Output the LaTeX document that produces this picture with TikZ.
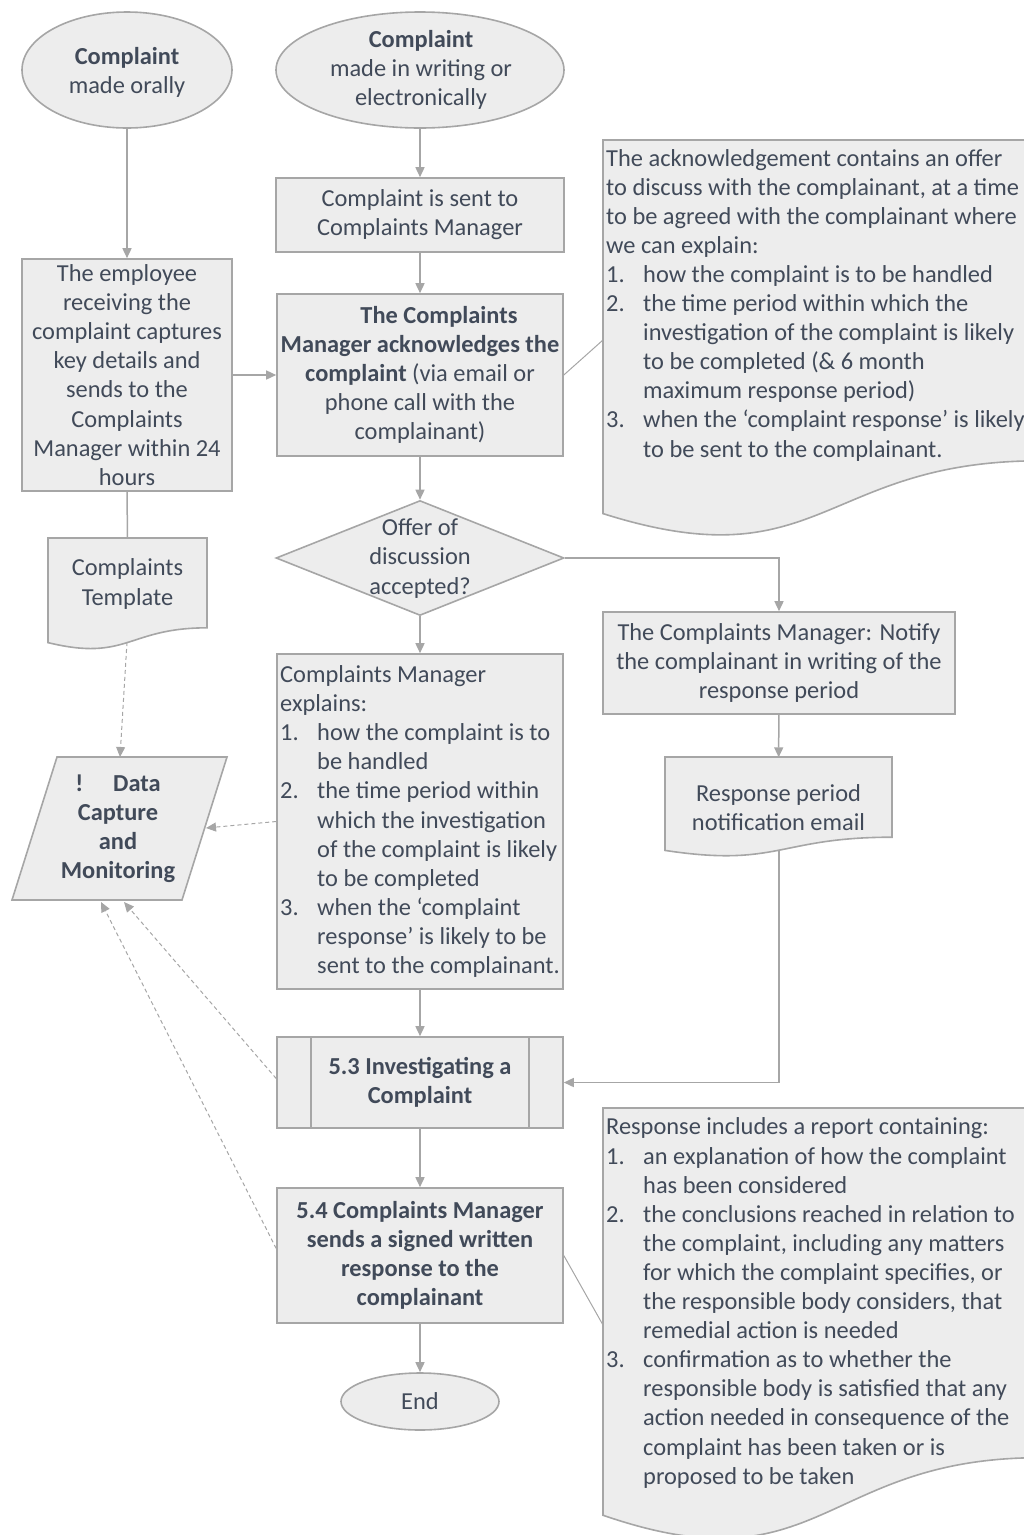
\documentclass[tikz,border=0pt]{standalone}
\usepackage{fontspec}
\setmainfont{Carlito}
\usetikzlibrary{shapes.geometric,arrows.meta,calc}
\definecolor{fillg}{HTML}{EDEDED}
\definecolor{lineg}{HTML}{A6A6A6}
\definecolor{txt}{HTML}{414A59}
\newcommand{\numit}[1]{\makebox[37pt][l]{#1}}
\newcommand{\contl}{\hspace*{37pt}}
\newcommand{\mydoc}[4]{%
  \filldraw[docsty] (#1,-#3) -- (#2,-#3) -- (#2,{-(#3+0.802*#4)})
    .. controls ({(#1+#2)/2},{-(#3+0.802*#4)}) and ({(#1+#2)/2},{-(#3+1.107*#4)}) ..
    (#1,{-(#3+0.934*#4)}) -- cycle;}
\begin{document}
\begin{tikzpicture}[x=1pt,y=1pt,
  every node/.style={font=\fontsize{24.4}{29.1}\selectfont, text=txt, inner sep=0pt},
  bfont/.style={font=\fontsize{24.4}{29.1}\selectfont\bfseries},
  box/.style={draw=lineg, fill=fillg, line width=1.6pt, align=center},
  bbox/.style={box, bfont},
  oval/.style={ellipse, draw=lineg, fill=fillg, line width=1.6pt},
  plain/.style={align=center},
  docsty/.style={draw=lineg, fill=fillg, line width=1.6pt},
  flow/.style={draw=lineg, line width=1.5pt, -{Triangle[length=10pt,width=9pt]}},
  dashflow/.style={draw=lineg, line width=1pt, dash pattern=on 4pt off 3pt, -{Triangle[length=10pt,width=9pt]}},
  notelink/.style={draw=lineg, line width=1pt},
]
\useasboundingbox (0,0) rectangle (1024,-1535);
\clip (0,0) rectangle (1024,-1535);

% start ovals
\node[oval, minimum width=210pt, minimum height=116pt] (o1) at (127,-70) {};
\node[plain] (o1t) at (127,-72) {\textbf{Complaint}\\made orally};
\node[oval, minimum width=288pt, minimum height=116pt] (o2) at (420,-70) {};
\node[plain] (o2t) at (421,-70) {\textbf{Complaint}\\made in writing or\\electronically};

% boxes
\node[box, minimum width=288pt, minimum height=74pt] (b1) at (420,-215)
  {Complaint is sent to\\Complaints Manager};
\node[box, minimum width=210pt, minimum height=232pt] (emp) at (127,-375)
  {The employee\\receiving the\\complaint captures\\key details and\\sends to the\\Complaints\\Manager within 24\\hours};
\node[box, minimum width=286pt, minimum height=162pt] (ack) at (420,-375)
  {\hspace*{38pt}\textbf{The Complaints}\\\textbf{Manager acknowledges the}\\\textbf{complaint} (via email or\\phone call with the\\complainant)};

% decision
\node[diamond, draw=lineg, fill=fillg, line width=1.6pt, minimum width=288pt, minimum height=115pt] (dia) at (420,-558) {};
\node[plain] (diat) at (420,-558.5) {Offer of\\discussion\\accepted?};

% notify
\node[box, minimum width=352pt, minimum height=102pt] (notify) at (779,-663)
  {The Complaints Manager: Notify\\the complainant in writing of the\\response period};

% email document
\mydoc{665}{892}{757}{100}
\node[plain, minimum width=227pt, minimum height=101pt] (email) at (778.5,-808) {Response period\\notification email};
\coordinate (ebot) at (779,-850);

% template document
\mydoc{48}{207}{538}{112}
\node[plain, minimum width=159pt, minimum height=91pt] (templ) at (127.5,-584) {Complaints\\Template};
\coordinate (tbot) at (127,-642);

% data capture
\filldraw[docsty] (57,-757) -- (227,-757) -- (182,-900) -- (12,-900) -- cycle;
\node[plain, bfont] (data) at (118,-829) {!\hspace{30pt}Data\\Capture\\and\\Monitoring};
\coordinate (dtop) at (120,-757);
\coordinate (dright) at (206,-828);
\coordinate (dbota) at (124,-902);
\coordinate (dbotb) at (101,-902);

% explains box
\node[box, align=left, minimum width=286pt, minimum height=335pt] (cme) at (420,-821.5)
  {Complaints Manager\\explains:\\\numit{1.}how the complaint is to\\\contl be handled\\\numit{2.}the time period within\\\contl which the investigation\\\contl of the complaint is likely\\\contl to be completed\\\numit{3.}when the ‘complaint\\\contl response’ is likely to be\\\contl sent to the complainant.};

% investigating
\node[bbox, minimum width=286pt, minimum height=91pt] (inv) at (420,-1082.5) {5.3 Investigating a\\Complaint};
\draw[draw=lineg, line width=1.6pt] ([xshift=35pt]inv.north west) -- ([xshift=35pt]inv.south west);
\draw[draw=lineg, line width=1.6pt] ([xshift=-35pt]inv.north east) -- ([xshift=-35pt]inv.south east);

% response
\node[bbox, minimum width=286pt, minimum height=135pt] (sr) at (420,-1255.5)
  {5.4 Complaints Manager\\sends a signed written\\response to the\\complainant};
\node[oval, minimum width=158pt, minimum height=57pt] (endn) at (420,-1401.5) {End};

% notes
\mydoc{603}{1040}{140}{400}
\node[align=left, anchor=west] (n1) at (606,-305)
  {The acknowledgement contains an offer\\to discuss with the complainant, at a time\\to be agreed with the complainant where\\we can explain:\\\numit{1.}how the complaint is to be handled\\\numit{2.}the time period within which the\\\contl investigation of the complaint is likely\\\contl to be completed (\& 6 month\\\contl maximum response period)\\\numit{3.}when the ‘complaint response’ is likely\\\contl to be sent to the complainant.};
\coordinate (n1a) at (603,-340);

\mydoc{603}{1040}{1108}{436}
\node[align=left, anchor=west] (n2) at (606,-1303)
  {Response includes a report containing:\\\numit{1.}an explanation of how the complaint\\\contl has been considered\\\numit{2.}the conclusions reached in relation to\\\contl the complaint, including any matters\\\contl for which the complaint specifies, or\\\contl the responsible body considers, that\\\contl remedial action is needed\\\numit{3.}confirmation as to whether the\\\contl responsible body is satisfied that any\\\contl action needed in consequence of the\\\contl complaint has been taken or is\\\contl proposed to be taken};
\coordinate (n2a) at (603,-1325);

% connectors
\draw[flow] (o1) -- (emp);
\draw[flow] (o2) -- (b1);
\draw[flow] (b1) -- (ack);
\draw[flow] (emp) -- (ack);
\draw[flow] (ack) -- (dia);
\draw[flow] (dia.east) -| (notify.north);
\draw[flow] (notify) -- (email);
\draw[flow] (ebot) |- (inv.east);
\draw[flow] (dia) -- (cme);
\draw[flow] (cme) -- (inv);
\draw[flow] (inv) -- (sr);
\draw[flow] (sr) -- (endn);
\draw[draw=lineg, line width=1.5pt] (emp.south) -- (templ.north);
\draw[dashflow] (tbot) -- (dtop);
\draw[dashflow] (cme.west) -- (dright);
\draw[dashflow] ([yshift=4pt]inv.west) -- (dbota);
\draw[dashflow] ([yshift=7pt]sr.west) -- (dbotb);
\draw[notelink] (ack.east) -- (n1a);
\draw[notelink] (sr.east) -- (n2a);
\end{tikzpicture}
\end{document}
